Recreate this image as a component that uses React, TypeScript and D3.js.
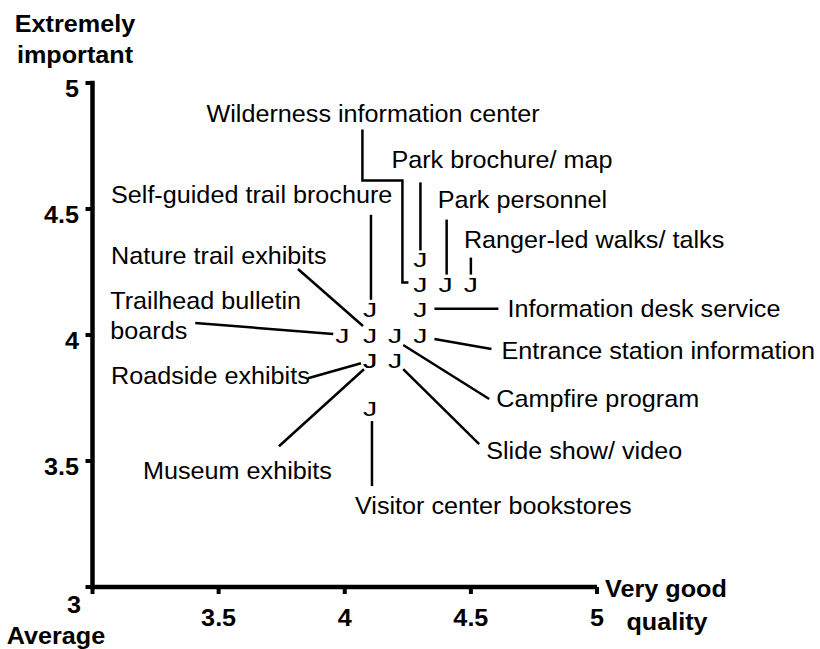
import React from "react";
import * as d3 from "d3";

// ---- data ----
const items = [
  "Park brochure/ map",
  "Wilderness information center",
  "Park personnel",
  "Ranger-led walks/ talks",
  "Self-guided trail brochure",
  "Nature trail exhibits",
  "Trailhead bulletin boards",
  "Roadside exhibits",
  "Museum exhibits",
  "Visitor center bookstores",
  "Information desk service",
  "Entrance station information",
  "Campfire program",
  "Slide show/ video",
];
const quality = [4.3, 4.3, 4.4, 4.5, 4.1, 4.1, 3.99, 4.1, 4.1, 4.1, 4.3, 4.3, 4.2, 4.2];
const importance = [4.3, 4.2, 4.2, 4.2, 4.1, 4.0, 4.0, 3.9, 3.9, 3.71, 4.1, 4.0, 4.0, 3.9];
const xTicks = [3, 3.5, 4, 4.5, 5];
const yTicks = [3, 3.5, 4, 4.5, 5];
const xTickLabels = ["3.5", "4", "4.5", "5"];
const yTickLabels = ["3.5", "4", "4.5", "5"];

// ---- annotation layout (pixel offsets from each point) ----
type Ann = { lines: string[]; lx: number; ly: number; lead: [number, number][] };
const annotations: Ann[] = [
  { lines: ["Park brochure/ map"], lx: -29, ly: -91, lead: [[0, -77], [0, -9]] },
  { lines: ["Wilderness information center"], lx: -214, ly: -163, lead: [[-58, -155], [-58, -104], [-18, -104], [-18, -2], [-12, -2]] },
  { lines: ["Park personnel"], lx: -8, ly: -77, lead: [[1, -65], [1, -10]] },
  { lines: ["Ranger-led walks/ talks"], lx: -7, ly: -37, lead: [[0, -27], [0, -10]] },
  { lines: ["Self-guided trail brochure"], lx: -259, ly: -107, lead: [[1, -95], [1, -10]] },
  { lines: ["Nature trail exhibits"], lx: -259, ly: -71, lead: [[-72, -66], [-7, -9]] },
  { lines: ["Trailhead bulletin", "boards"], lx: -232, ly: -26, lead: [[-147, -12], [-9, -1]] },
  { lines: ["Roadside exhibits"], lx: -259, ly: 24, lead: [[-62, 18], [-9, 3]] },
  { lines: ["Museum exhibits"], lx: -227, ly: 119, lead: [[-91, 86], [-6, 9]] },
  { lines: ["Visitor center bookstores"], lx: -15, ly: 106, lead: [[2, 13], [2, 78]] },
  { lines: ["Information desk service"], lx: 87, ly: 7, lead: [[14, -1], [78, -1]] },
  { lines: ["Entrance station information"], lx: 81, ly: 24, lead: [[14, 4], [71, 14]] },
  { lines: ["Campfire program"], lx: 101, ly: 72, lead: [[8, 10], [94, 64]] },
  { lines: ["Slide show/ video"], lx: 91, ly: 99, lead: [[8, 9], [84, 84]] },
];

const FONT = "'Liberation Sans', Arial, Helvetica, sans-serif";
const SX = 1.05;

function Txt({ x, y, children, size = 24, bold = false, anchor = "start", sx = SX }: any) {
  return (
    <text
      transform={`translate(${x},${y}) scale(${sx},1)`}
      fontSize={size}
      fontWeight={bold ? "bold" : "normal"}
      fontFamily={FONT}
      textAnchor={anchor}
      fill="#000"
    >
      {children}
    </text>
  );
}

export default function App() {
  const W = 820, H = 649;
  const x = d3.scaleLinear().domain([3, 5]).range([92.5, 597]);
  const y = d3.scaleLinear().domain([3, 5]).range([587, 83]);
  const line = d3.line<[number, number]>().x((d) => d[0]).y((d) => d[1]);

  const pts = items.map((name, i) => ({ name, px: x(quality[i]), py: y(importance[i]), ann: annotations[i] }));

  return (
    <svg width={W} height={H} style={{ position: "absolute", left: 0, top: 0, background: "#fff" }}>
      {/* axes */}
      <line x1={x(3)} x2={x(3)} y1={y(5)} y2={y(3)} stroke="#000" strokeWidth={4.5} strokeLinecap="square" />
      <line x1={x(3)} x2={x(5)} y1={y(3)} y2={y(3)} stroke="#000" strokeWidth={4.5} strokeLinecap="butt" />
      {xTicks.map((t) => (
        <line key={"xt" + t} x1={x(t)} x2={x(t)} y1={y(3)} y2={y(3) + 7} stroke="#000" strokeWidth={4} />
      ))}
      {yTicks.map((t) => (
        <line key={"yt" + t} x1={x(3) - 7} x2={x(3)} y1={y(t)} y2={y(t)} stroke="#000" strokeWidth={4} />
      ))}
      {xTicks.slice(1).map((t, i) => (
        <Txt key={"xl" + t} x={x(t)} y={626} bold anchor="middle">{xTickLabels[i]}</Txt>
      ))}
      {yTicks.slice(1).map((t, i) => (
        <Txt key={"yl" + t} x={79} y={y(t) + 13.5} bold anchor="end">{yTickLabels[i]}</Txt>
      ))}
      <Txt x={74} y={613} bold anchor="middle">3</Txt>
      <Txt x={56} y={644} bold anchor="middle">Average</Txt>
      <Txt x={75} y={32} bold anchor="middle">Extremely</Txt>
      <Txt x={75} y={63} bold anchor="middle">important</Txt>
      <Txt x={666} y={597} bold anchor="middle">Very good</Txt>
      <Txt x={667} y={630} bold anchor="middle">quality</Txt>

      {/* leader lines */}
      {pts.map((p, i) => (
        <path
          key={"ld" + i}
          d={line(p.ann.lead.map(([dx, dy]) => [p.px + dx, p.py + dy]) as [number, number][]) || ""}
          fill="none"
          stroke="#000"
          strokeWidth={2.5}
        />
      ))}
      {/* labels */}
      {pts.map((p, i) =>
        p.ann.lines.map((ln, j) => (
          <Txt key={"lb" + i + "_" + j} x={p.px + p.ann.lx} y={p.py + p.ann.ly + j * 30}>{ln}</Txt>
        ))
      )}
      {/* markers */}
      {pts.map((p, i) => (
        <Txt key={"mk" + i} x={p.px} y={p.py + 7.5} size={21} sx={1.35} anchor="middle">J</Txt>
      ))}
    </svg>
  );
}
